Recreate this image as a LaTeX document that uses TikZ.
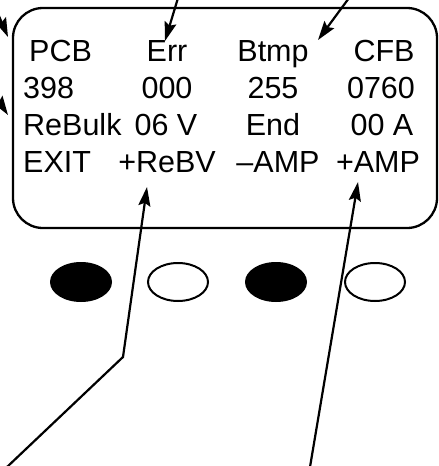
\documentclass[tikz,border=0pt]{standalone}
\usepackage{fontspec}
\setmainfont{Liberation Sans}
\usetikzlibrary{arrows.meta}
\begin{document}
\begin{tikzpicture}[x=1pt,y=-1pt,
  lbl/.style={inner sep=0pt,anchor=base,font=\fontsize{30.5}{35}\selectfont},
  lbll/.style={lbl,anchor=base west},
  ptr/.style={line width=2.2pt,-{Stealth[length=19pt,width=12pt,inset=3pt]}},
  panel/.style={line width=2.3pt,rounded corners=30pt},
  btnon/.style={fill=black},
  btnoff/.style={draw=black,line width=2pt,fill=white}]
\useasboundingbox (0,0) rectangle (439,466);
\clip (0,0) rectangle (439,466);
\draw[panel] (13,8) rectangle (437,228);
% row 1
\node[lbll] (pcb) at (29,61) {PCB};
\node[lbl] (err) at (167,61) {Err};
\node[lbl] (btmp) at (273,61) {Btmp};
\node[lbl] (cfb) at (384,61) {CFB};
% row 2
\node[lbll] (v398) at (23,98) {398};
\node[lbl] (v000) at (167,98) {000};
\node[lbl] (v255) at (273,98) {255};
\node[lbl] (v0760) at (381,98) {0760};
% row 3
\node[lbll] (rebulk) at (23,135) {ReBulk};
\node[lbl] (v06) at (166,135) {06 V};
\node[lbl] (vend) at (273,135) {End};
\node[lbl] (v00a) at (382,135) {00 A};
% row 4
\node[lbll] (exit) at (23,172) {EXIT};
\node[lbl] (rebv) at (167,172) {+ReBV};
\node[lbl] (mamp) at (278,172) {–AMP};
\node[lbl] (pamp) at (378,172) {+AMP};
% buttons
\fill[btnon] (81,282) ellipse [x radius=31,y radius=20];
\draw[btnoff] (178,282) ellipse [x radius=30,y radius=19];
\fill[btnon] (276,282) ellipse [x radius=31,y radius=20];
\draw[btnoff] (375,282) ellipse [x radius=30,y radius=19];
% arrow coordinates
\coordinate (a1s) at (-8,0);
\coordinate (a1t) at (8,37);
\coordinate (a2s) at (-10,88);
\coordinate (a2t) at (8,115);
\coordinate (errs) at (178,-2);
\coordinate (errt) at (165,41);
\coordinate (btmps) at (349,-2);
\coordinate (btmpt) at (318,40);
\coordinate (rebvs) at (7,467);
\coordinate (rebvk) at (123,357);
\coordinate (rebvt) at (147,187);
\coordinate (pamps) at (310,467);
\coordinate (pampt) at (358,182);
\draw[ptr] (a1s) -- (a1t);
\draw[ptr] (a2s) -- (a2t);
\draw[ptr] (errs) -- (errt);
\draw[ptr] (btmps) -- (btmpt);
\draw[ptr] (rebvs) -- (rebvk) -- (rebvt);
\draw[ptr] (pamps) -- (pampt);
\end{tikzpicture}
\end{document}
